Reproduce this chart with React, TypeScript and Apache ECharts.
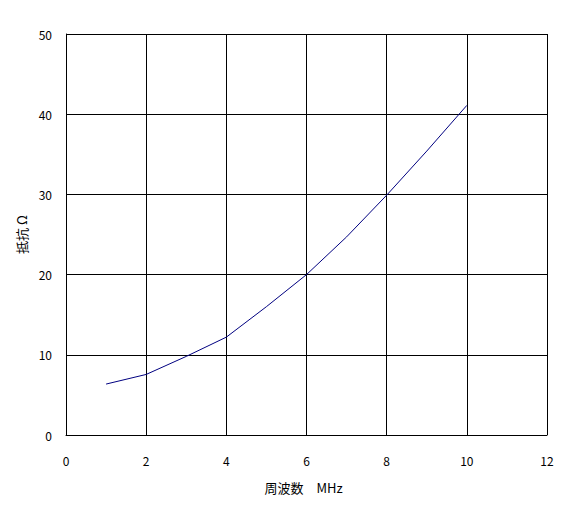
import React, { useEffect, useRef } from "react";
import * as echarts from "echarts";

const freqMHz = [1, 2, 3, 4, 5, 6, 7, 8, 9, 10];
const resistance = [6.35, 7.55, 9.8, 12.2, 16.0, 20.0, 24.7, 29.9, 35.4, 41.1];
const xAxisName = "周波数　MHz";
const yAxisName = "抵抗 Ω";

export default function App() {
  const ref = useRef<HTMLDivElement>(null);
  useEffect(() => {
    if (!ref.current) return;
    const chart = echarts.init(ref.current, null, { renderer: "svg" });
    const font = "'MS PGothic', 'Noto Sans CJK JP', sans-serif";
    chart.setOption({
      animation: false,
      backgroundColor: "#ffffff",
      grid: { left: 66, top: 34, right: 24, bottom: 77, containLabel: false },
      xAxis: {
        type: "value",
        min: 0,
        max: 12,
        interval: 2,
        name: xAxisName,
        nameLocation: "middle",
        nameGap: 46,
        nameTextStyle: { color: "#000", fontSize: 13, fontFamily: font, padding: [0, 6, 0, 0] },
        axisLine: { show: true, lineStyle: { color: "#000", width: 1 } },
        axisTick: { show: false },
        axisLabel: { color: "#000", fontSize: 12, fontFamily: font, margin: 19 },
        splitLine: { show: true, lineStyle: { color: "#000", width: 1 } },
      },
      yAxis: {
        type: "value",
        min: 0,
        max: 50,
        interval: 10,
        name: yAxisName,
        nameLocation: "middle",
        nameGap: 36,
        nameRotate: 90,
        nameTextStyle: { color: "#000", fontSize: 13, fontFamily: font },
        axisLine: { show: true, lineStyle: { color: "#000", width: 1 } },
        axisTick: { show: false },
        axisLabel: { color: "#000", fontSize: 12, fontFamily: font, margin: 14 },
        splitLine: { show: true, lineStyle: { color: "#000", width: 1 } },
      },
      series: [
        {
          type: "line",
          data: freqMHz.map((f, i) => [f, resistance[i]]),
          smooth: false,
          showSymbol: false,
          lineStyle: { color: "#000080", width: 1 },
          itemStyle: { color: "#000080" },
        },
      ],
    });
    return () => chart.dispose();
  }, []);
  return (
    <div
      ref={ref}
      style={{ position: "absolute", left: 0, top: 0, width: 571, height: 512 }}
    />
  );
}
